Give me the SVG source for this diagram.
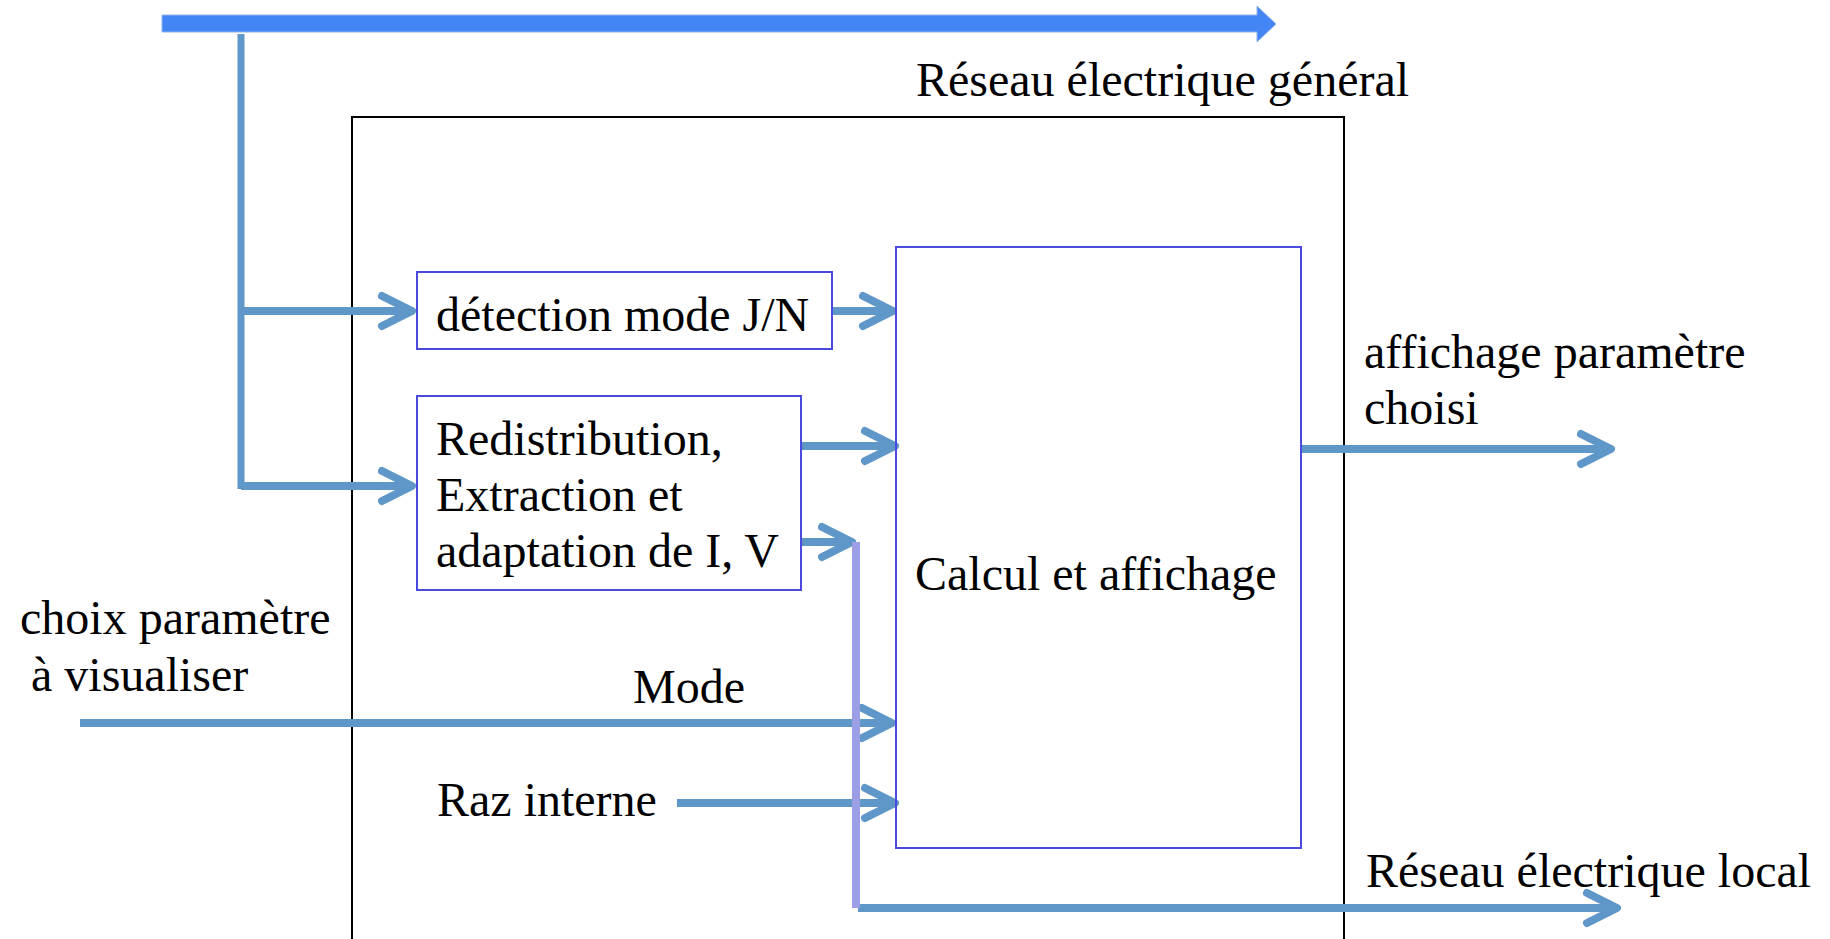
<svg xmlns="http://www.w3.org/2000/svg" width="1830" height="939" viewBox="0 0 1830 939">
<style>
text{font-family:"Liberation Serif","Times New Roman",serif;font-size:48px;fill:#000}
.box{fill:#fff;stroke:#4a4adc;stroke-width:2}
.frame{fill:none;stroke:#000;stroke-width:2}
.c{fill:none;stroke:#6097c9;stroke-width:8}
.v{fill:none;stroke:#6097c9;stroke-width:7}
.lav{fill:none;stroke:#9c9ee6;stroke-width:8}
</style>
<defs>
<marker id="chev" viewBox="-40 -22 48 44" refX="0" refY="0" markerWidth="48" markerHeight="44" markerUnits="userSpaceOnUse" orient="auto" overflow="visible">
<path d="M-30,-15 L0,0 L-30,15" fill="none" stroke="#6097c9" stroke-width="8" stroke-linecap="round" stroke-linejoin="round"/>
</marker>
</defs>
<rect class="frame" x="352" y="117" width="992" height="840"/>
<g id="top-arrow">
<path d="M162,15 H1257 V6 L1276,24 L1257,42 V32 H162 Z" fill="#4485f5" stroke="#8fb4ea" stroke-width="1"/>
</g>
<g id="label-general"><text x="916" y="96">Réseau électrique général</text></g>
<g id="connectors">
<path class="v" d="M241,34 V489"/>
<path class="c" d="M241,311 H412" marker-end="url(#chev)"/>
<path class="c" d="M241,486 H412" marker-end="url(#chev)"/>
<path class="c" d="M832,311 H893" marker-end="url(#chev)"/>
<path class="c" d="M801,446 H895" marker-end="url(#chev)"/>
<path class="c" d="M801,542 H852" marker-end="url(#chev)"/>
<path class="c" d="M80,723 H892" marker-end="url(#chev)"/>
<path class="c" d="M677,803 H895" marker-end="url(#chev)"/>
<path class="c" d="M1300,449 H1611" marker-end="url(#chev)"/>
<path class="c" d="M858,908 H1617" marker-end="url(#chev)"/>
<path class="lav" d="M856,542 V908"/>
</g>
<g id="detection">
<rect class="box" x="417" y="272" width="415" height="77"/>
<text x="436" y="331">détection mode J/N</text>
</g>
<g id="redistribution">
<rect class="box" x="417" y="396" width="384" height="194"/>
<text x="436" y="455">Redistribution,</text>
<text x="436" y="511">Extraction et</text>
<text x="436" y="567">adaptation de I, V</text>
</g>
<g id="calcul">
<rect class="box" x="896" y="247" width="405" height="601" style="fill:none"/>
<text x="915" y="590">Calcul et affichage</text>
</g>
<g id="label-affichage">
<text x="1364" y="368">affichage paramètre</text>
<text x="1364" y="424">choisi</text>
</g>
<g id="label-local"><text x="1366" y="887">Réseau électrique local</text></g>
<g id="label-choix">
<text x="20" y="634">choix paramètre</text>
<text x="31" y="691">à visualiser</text>
</g>
<g id="label-mode"><text x="633" y="703">Mode</text></g>
<g id="label-raz"><text x="437" y="816">Raz interne</text></g>
</svg>
